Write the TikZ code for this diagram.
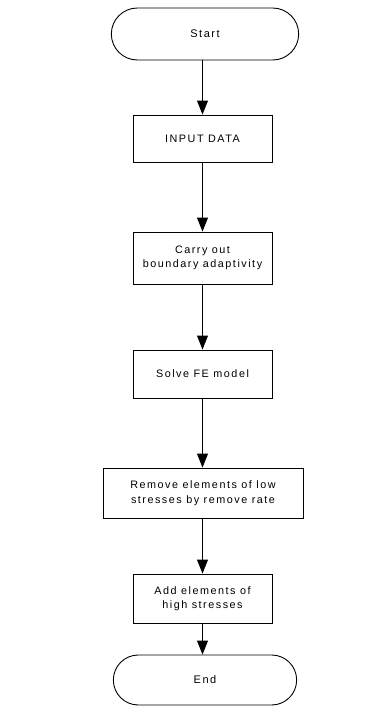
\documentclass[tikz,border=0pt]{standalone}
\usepackage{fontspec}
\setmainfont{Liberation Sans}[LetterSpace=14]
\usetikzlibrary{shapes.misc,arrows.meta}
\begin{document}
\begin{tikzpicture}[x=1pt,y=1pt,
  term/.style={draw,line width=0.9pt,rounded rectangle,minimum width=194pt,minimum height=52pt,font=\fontsize{11}{14}\selectfont},
  procbox/.style={draw,line width=0.9pt,rectangle,align=center,inner xsep=2pt,minimum width=#1,font=\fontsize{10.8}{14.5}\selectfont},
  flow/.style={line width=0.9pt,-{Triangle[length=14pt,width=11pt]}}]
\useasboundingbox (0,0) rectangle (388,-712);
\node[term] (start) at (205,-34) {Start};
\node[procbox=139pt,minimum height=47pt] (input) at (202.5,-138.5) {INPUT DATA};
\node[procbox=139pt,minimum height=52pt] (carry) at (202.5,-258) {Carry out\\boundary adaptivity};
\node[procbox=139pt,minimum height=48pt] (solve) at (202.5,-374) {Solve FE model};
\node[procbox=200pt,minimum height=50pt] (remove) at (203,-493) {Remove elements of low\\stresses by remove rate};
\node[procbox=139pt,minimum height=49pt] (add) at (202.5,-598.5) {Add elements of\\high stresses};
\node[term,minimum width=190pt,minimum height=50pt] (end) at (205,-680) {End};
\draw[flow] (start.south -| input.north) -- (input.north);
\draw[flow] (input) -- (carry);
\draw[flow] (carry) -- (solve);
\draw[flow] (solve) -- (remove.north -| solve.south);
\draw[flow] (remove.south -| add.north) -- (add);
\draw[flow] (add.south) -- (end.north -| add.south);
\end{tikzpicture}
\end{document}
